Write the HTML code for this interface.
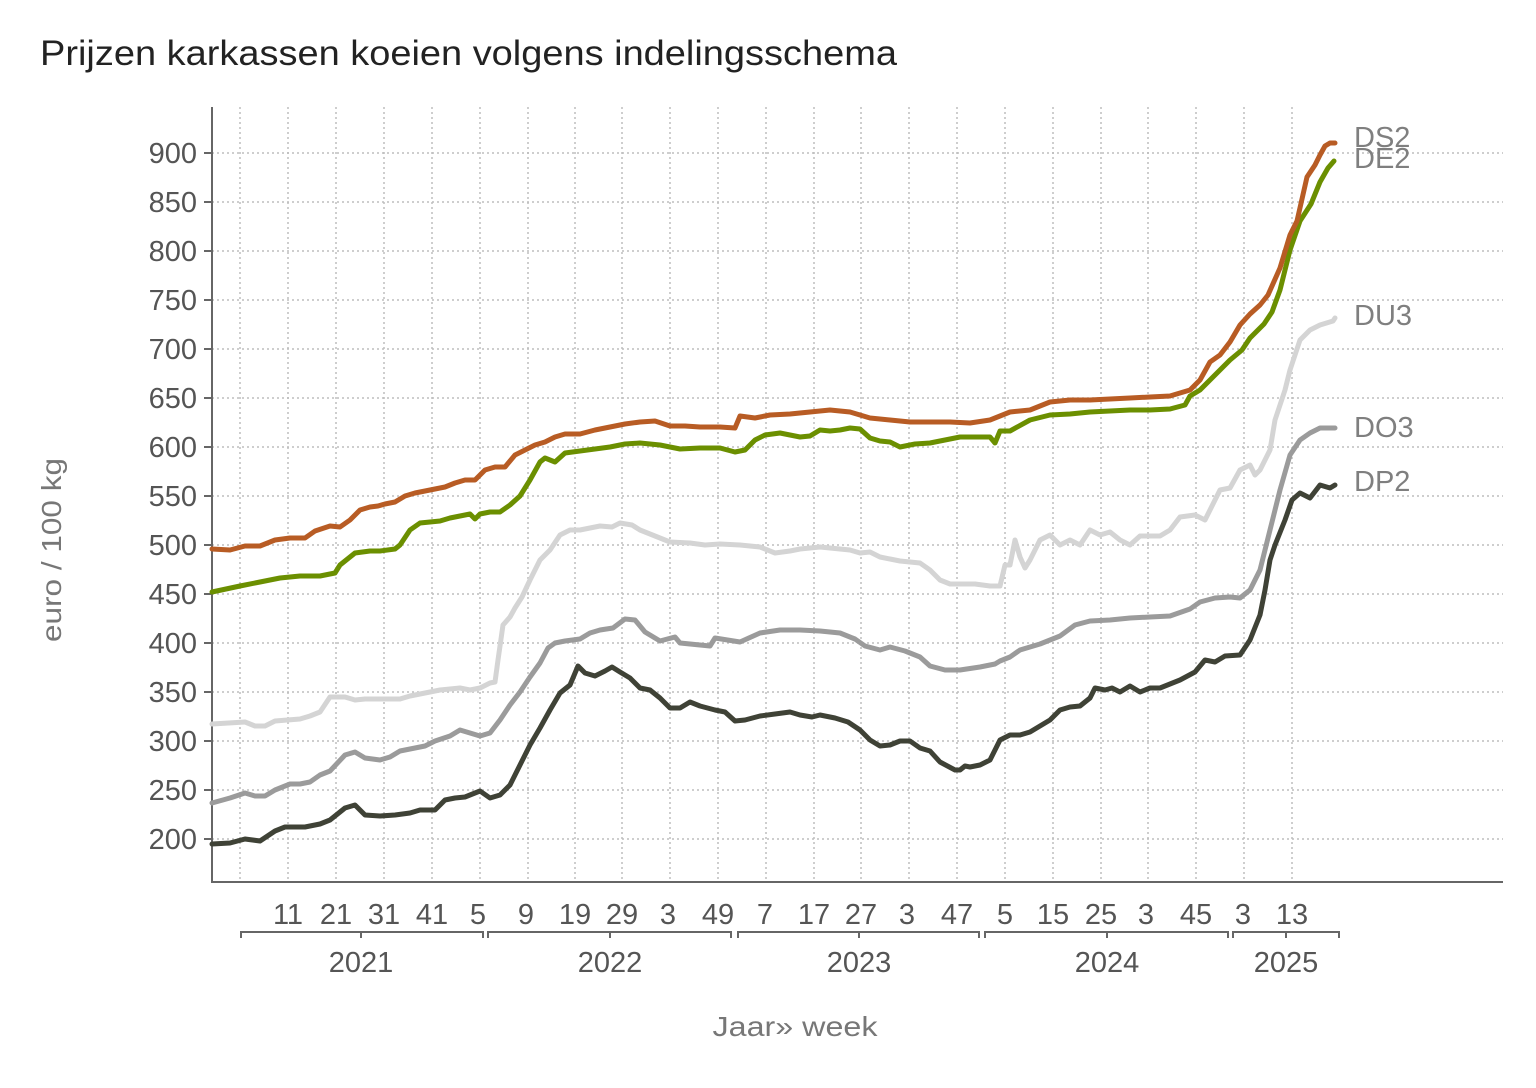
<!DOCTYPE html>
<html><head><meta charset="utf-8"><style>
html,body{margin:0;padding:0;background:#fff;}
svg{display:block;font-family:"Liberation Sans",sans-serif;}
</style></head><body>
<svg width="1536" height="1088" viewBox="0 0 1536 1088" xmlns="http://www.w3.org/2000/svg">
<rect width="1536" height="1088" fill="#fff"/>
<text x="40" y="65" font-size="35" fill="#222" textLength="857" lengthAdjust="spacingAndGlyphs">Prijzen karkassen koeien volgens indelingsschema</text>
<g stroke="#bdbdbd" stroke-width="1.5" stroke-dasharray="2,3">
<line x1="212" x2="1503" y1="153" y2="153"/><line x1="212" x2="1503" y1="202" y2="202"/>
<line x1="212" x2="1503" y1="251" y2="251"/><line x1="212" x2="1503" y1="300" y2="300"/>
<line x1="212" x2="1503" y1="349" y2="349"/><line x1="212" x2="1503" y1="398" y2="398"/>
<line x1="212" x2="1503" y1="447" y2="447"/><line x1="212" x2="1503" y1="496" y2="496"/>
<line x1="212" x2="1503" y1="545" y2="545"/><line x1="212" x2="1503" y1="594" y2="594"/>
<line x1="212" x2="1503" y1="643" y2="643"/><line x1="212" x2="1503" y1="692" y2="692"/>
<line x1="212" x2="1503" y1="741" y2="741"/><line x1="212" x2="1503" y1="790" y2="790"/>
<line x1="212" x2="1503" y1="839" y2="839"/>
<line y1="107" y2="882" x1="240" x2="240"/>
<line y1="107" y2="882" x1="288" x2="288"/><line y1="107" y2="882" x1="336" x2="336"/>
<line y1="107" y2="882" x1="384" x2="384"/><line y1="107" y2="882" x1="432" x2="432"/>
<line y1="107" y2="882" x1="480" x2="480"/><line y1="107" y2="882" x1="528" x2="528"/>
<line y1="107" y2="882" x1="575" x2="575"/><line y1="107" y2="882" x1="622" x2="622"/>
<line y1="107" y2="882" x1="670" x2="670"/><line y1="107" y2="882" x1="718" x2="718"/>
<line y1="107" y2="882" x1="766" x2="766"/><line y1="107" y2="882" x1="814" x2="814"/>
<line y1="107" y2="882" x1="861" x2="861"/><line y1="107" y2="882" x1="909" x2="909"/>
<line y1="107" y2="882" x1="957" x2="957"/><line y1="107" y2="882" x1="1005" x2="1005"/>
<line y1="107" y2="882" x1="1053" x2="1053"/><line y1="107" y2="882" x1="1101" x2="1101"/>
<line y1="107" y2="882" x1="1148" x2="1148"/><line y1="107" y2="882" x1="1196" x2="1196"/>
<line y1="107" y2="882" x1="1244" x2="1244"/><line y1="107" y2="882" x1="1292" x2="1292"/>
</g>
<g stroke="#666" stroke-width="2" fill="none">
<line x1="212" y1="107" x2="212" y2="882"/><line x1="211" y1="882" x2="1503" y2="882"/>
</g>
<g stroke="#666" stroke-width="2">
<line x1="204" x2="212" y1="153" y2="153"/><line x1="204" x2="212" y1="202" y2="202"/><line x1="204" x2="212" y1="251" y2="251"/><line x1="204" x2="212" y1="300" y2="300"/><line x1="204" x2="212" y1="349" y2="349"/><line x1="204" x2="212" y1="398" y2="398"/><line x1="204" x2="212" y1="447" y2="447"/><line x1="204" x2="212" y1="496" y2="496"/><line x1="204" x2="212" y1="545" y2="545"/><line x1="204" x2="212" y1="594" y2="594"/><line x1="204" x2="212" y1="643" y2="643"/><line x1="204" x2="212" y1="692" y2="692"/><line x1="204" x2="212" y1="741" y2="741"/><line x1="204" x2="212" y1="790" y2="790"/><line x1="204" x2="212" y1="839" y2="839"/>
</g>
<g font-size="29" fill="#555" text-anchor="end">
<text x="197" y="163">900</text><text x="197" y="212">850</text><text x="197" y="261">800</text><text x="197" y="310">750</text><text x="197" y="359">700</text><text x="197" y="408">650</text><text x="197" y="457">600</text><text x="197" y="506">550</text><text x="197" y="555">500</text><text x="197" y="604">450</text><text x="197" y="653">400</text><text x="197" y="702">350</text><text x="197" y="751">300</text><text x="197" y="800">250</text><text x="197" y="849">200</text>
</g>
<text transform="translate(61,550) rotate(-90)" font-size="28" fill="#777" text-anchor="middle" textLength="184" lengthAdjust="spacingAndGlyphs">euro / 100 kg</text>
<g font-size="29" fill="#555" text-anchor="middle">
<text x="288" y="924">11</text><text x="336" y="924">21</text><text x="384" y="924">31</text><text x="432" y="924">41</text><text x="478" y="924">5</text><text x="526" y="924">9</text><text x="575" y="924">19</text><text x="622" y="924">29</text><text x="668" y="924">3</text><text x="718" y="924">49</text><text x="765" y="924">7</text><text x="814" y="924">17</text><text x="861" y="924">27</text><text x="907" y="924">3</text><text x="957" y="924">47</text><text x="1005" y="924">5</text><text x="1053" y="924">15</text><text x="1101" y="924">25</text><text x="1146" y="924">3</text><text x="1196" y="924">45</text><text x="1243" y="924">3</text><text x="1292" y="924">13</text>
<text x="361" y="972">2021</text><text x="610" y="972">2022</text><text x="859" y="972">2023</text><text x="1107" y="972">2024</text><text x="1286" y="972">2025</text>
</g>
<g stroke="#666" stroke-width="2" fill="none">
<path d="M241,938V932H483V938M361,932V938"/>
<path d="M488,938V932H731V938M610,932V938"/>
<path d="M738,938V932H979V938M859,932V938"/>
<path d="M985,938V932H1228V938M1107,932V938"/>
<path d="M1233,938V932H1339V938M1286,932V938"/>
</g>
<text x="795" y="1036" font-size="28" fill="#777" text-anchor="middle" textLength="165" lengthAdjust="spacingAndGlyphs">Jaar» week</text>
<g fill="none" stroke-width="5" stroke-linejoin="round" stroke-linecap="round">
<polyline stroke="#d4d4d4" points="212,724 245,722 255,726 265,726 275,721 300,719 310,716 320,712 330,697 345,697 355,700 365,699 400,699 410,696 425,693 440,690 460,688 470,690 480,688 490,683 495,682 498,660 503,625 510,617 515,608 522,597 530,580 540,560 550,550 560,535 570,530 580,530 590,528 600,526 612,527 620,523 632,525 640,530 655,536 670,542 690,543 705,545 720,544 740,545 760,547 775,553 790,551 800,549 820,547 840,549 850,550 860,553 870,552 880,557 890,559 900,561 910,562 920,563 930,570 940,580 950,584 960,584 975,584 990,586 1000,586 1005,565 1010,565 1015,540 1020,557 1025,568 1030,560 1040,540 1050,535 1060,545 1070,540 1080,545 1090,530 1100,535 1110,532 1120,540 1130,545 1140,536 1160,536 1170,530 1180,517 1195,515 1205,520 1210,510 1220,490 1230,488 1240,470 1250,465 1255,475 1260,470 1270,450 1275,420 1285,390 1290,370 1300,340 1310,330 1320,325 1333,321 1335,318"/>
<polyline stroke="#9b9b9b" points="212,803 230,798 245,793 255,796 265,796 275,790 290,784 300,784 310,782 320,775 330,771 345,755 355,752 365,758 380,760 390,757 400,751 415,748 425,746 435,741 450,736 460,730 470,733 480,736 490,733 500,720 510,705 520,692 530,677 540,663 548,648 555,643 565,641 580,639 590,633 600,630 613,628 625,619 635,620 645,632 660,641 675,637 680,643 700,645 710,646 715,638 740,642 760,633 780,630 800,630 820,631 840,633 855,639 865,646 880,650 890,647 905,651 920,657 930,666 945,670 960,670 980,667 995,664 1000,661 1010,657 1020,650 1040,644 1060,636 1075,625 1090,621 1110,620 1130,618 1150,617 1170,616 1190,609 1200,602 1215,598 1230,597 1240,598 1250,590 1260,570 1270,530 1280,490 1290,455 1300,440 1310,433 1320,428 1335,428"/>
<polyline stroke="#3f4236" points="212,844 230,843 245,839 260,841 275,831 285,827 305,827 320,824 330,820 345,808 355,805 365,815 380,816 395,815 410,813 420,810 435,810 445,800 455,798 465,797 475,793 480,791 490,798 500,795 510,785 520,765 530,745 540,728 550,710 560,693 570,685 578,666 585,673 595,676 605,671 612,667 620,672 630,678 640,688 650,690 660,698 670,708 680,708 690,702 700,706 715,710 725,712 735,721 745,720 760,716 775,714 790,712 800,715 812,717 820,715 835,718 848,722 860,730 870,740 880,746 890,745 900,741 910,741 920,748 930,751 940,762 955,770 960,770 965,766 970,767 980,765 990,760 1000,740 1010,735 1020,735 1030,732 1040,726 1050,720 1060,710 1070,707 1080,706 1090,698 1095,688 1105,690 1112,688 1120,692 1130,686 1140,692 1150,688 1160,688 1170,684 1180,680 1195,672 1205,660 1215,662 1225,656 1240,655 1250,640 1260,615 1265,590 1270,560 1275,545 1285,520 1292,500 1300,493 1310,498 1320,485 1330,488 1335,485"/>
<polyline stroke="#6b8f00" points="212,592 240,586 260,582 280,578 300,576 320,576 335,573 340,565 355,553 370,551 380,551 395,549 400,545 410,530 420,523 430,522 440,521 450,518 460,516 470,514 475,519 480,514 490,512 500,512 510,505 520,496 530,480 540,462 545,458 555,462 565,453 580,451 595,449 610,447 625,444 640,443 660,445 680,449 700,448 720,448 735,452 745,450 755,440 765,435 780,433 790,435 800,437 810,436 820,430 830,431 840,430 850,428 860,429 870,438 880,441 890,442 900,447 915,444 930,443 945,440 960,437 975,437 990,437 995,443 1000,431 1010,431 1030,420 1050,415 1070,414 1090,412 1110,411 1130,410 1150,410 1170,409 1185,405 1190,396 1200,390 1210,380 1220,370 1230,360 1242,350 1250,338 1264,324 1272,312 1280,290 1290,250 1300,221 1311,204 1320,182 1328,168 1334,161"/>
<polyline stroke="#b85c24" points="212,549 230,550 245,546 260,546 275,540 290,538 305,538 315,531 330,526 340,527 350,520 360,510 370,507 378,506 385,504 395,502 405,496 415,493 430,490 445,487 455,483 465,480 475,480 485,470 495,467 505,467 515,455 525,450 535,445 545,442 555,437 565,434 580,434 595,430 610,427 625,424 640,422 655,421 670,426 685,426 700,427 720,427 735,428 740,416 755,418 770,415 790,414 810,412 830,410 850,412 870,418 890,420 910,422 930,422 950,422 970,423 990,420 1010,412 1030,410 1050,402 1070,400 1090,400 1110,399 1130,398 1150,397 1170,396 1190,390 1200,380 1210,362 1220,355 1230,342 1240,325 1250,314 1260,305 1268,295 1280,268 1290,235 1297,221 1307,177 1315,165 1320,155 1325,146 1330,143 1335,143"/>
</g>
<g font-size="29" fill="#7f7f7f">
<text x="1354" y="147">DS2</text><text x="1354" y="168">DE2</text><text x="1354" y="325">DU3</text><text x="1354" y="437">DO3</text><text x="1354" y="491">DP2</text>
</g>
</svg>
</body></html>
